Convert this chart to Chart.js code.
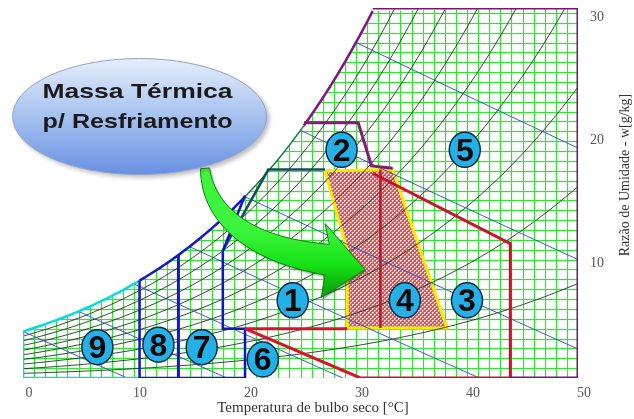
<!DOCTYPE html>
<html>
<head>
<meta charset="utf-8">
<script src="https://cdn.jsdelivr.net/npm/chart.js@4.4.1/dist/chart.umd.min.js"></script>
<style>
  html, body { margin: 0; padding: 0; background: #ffffff; }
  #wrap { width: 634px; height: 419px; }
</style>
</head>
<body>
<div id="wrap"><canvas id="chart"></canvas></div>
<script>
// ---- psychrometric base data (sea level) ----
const P_ATM = 101.325;                       // kPa
// saturation vapour pressure, kPa, index = dry-bulb °C (0..50)
const PSAT_KPA = [0.611,0.657,0.706,0.758,0.813,0.872,0.935,1.002,1.073,1.148,
                  1.228,1.313,1.403,1.498,1.599,1.706,1.819,1.938,2.064,2.198,
                  2.339,2.488,2.645,2.810,2.985,3.169,3.363,3.567,3.782,4.008,
                  4.246,4.495,4.758,5.034,5.323,5.627,5.945,6.280,6.630,6.997,
                  7.381,7.784,8.205,8.646,9.108,9.590,10.094,10.620,11.171,11.745,12.344];
const RH_PERCENT = [10, 20, 30, 40, 50, 60, 70, 80, 90];
const WET_BULB_C = [0, 5, 10, 15, 20, 25, 30];
const X_TICKS = [0, 10, 20, 30, 40, 50];
const Y_TICKS = [10, 20, 30];
const W_TOP = 30;          // g/kg, upper limit of the chart
const SAT_TOP_T = 31.5;    // °C where saturation meets the upper limit
const GRID_STEP_T = 1;
const GRID_STEP_W = 0.8;

// saturation curve break points (°C): zone 9 | zones 8-7 | ventilation | zone 5
const SAT_BREAKS_C = [0, 10.5, 20, 25.3, SAT_TOP_T];

// zone outlines, [dry-bulb °C, humidity ratio g/kg]
const ZONE9_EDGE   = [[0, 3.8], [0, 0], [10.5, 0]];
const ZONE8_EDGE   = [[10.5, 7.9], [10.5, 0], [20, 0]];
const ZONE78_SPLIT = [[14, 10.0], [14, 0]];
const ZONE7_EDGE   = [[20, 14.8], [18, 10.3], [18, 4], [20, 4], [20, 0]];
const ZONE1_EDGE   = [[18, 10.3], [22.1, 16.9], [27.2, 16.9]];
const ZONE6_EDGE   = [[20, 4], [30.4, 0]];
const ZONE1_BASE   = [[20, 4], [29.2, 4]];
const ZONE3_EDGE   = [[30.4, 0], [43.9, 0], [43.9, 10.9], [31.5, 16.6]];
const ZONE4_SHAPE  = [[27.2, 16.8], [33.3, 16.9], [38.2, 4.05], [29.2, 4.05], [29.2, 10.4], [27.2, 16.8]];
const ZONE4_SPLIT  = [[32.2, 16.9], [32.2, 4.05]];
const ZONE2_EDGE   = [[25.3, 20.7], [30.2, 20.7], [31.4, 17.2], [33.3, 17.0]];
const ZONE5_EDGE   = [[SAT_TOP_T, 30], [50, 30], [50, 0], [43.9, 0]];

// zone numbers
const ZONE_LABELS  = ['1', '2', '3', '4', '5', '6', '7', '8', '9'];
const ZONE_LABEL_T = [24.3, 28.7, 40.0, 34.4, 39.8, 21.6, 16.1, 12.2, 6.7];
const ZONE_LABEL_W = [6.3, 18.5, 6.3, 6.3, 18.5, 1.5, 2.5, 2.7, 2.5];

// callout and its arrow (data units)
const CALLOUT_LINES = ['Massa Térmica', 'p/ Resfriamento'];
const CALLOUT_CENTER = [10.5, 21.2];
const ARROW_CURVE = [[16.4, 17.0], [16.7, 13.2], [20.5, 10.4], [27.4, 9.6]];
const ARROW_TIP = [30.8, 8.8];

const X_TITLE = 'Temperatura de bulbo seco [°C]';
const Y_TITLE = 'Razão de Umidade - w[g/kg]';

// target plot rectangle inside the 634x419 canvas
const AREA = { left: 23, top: 8, right: 578, bottom: 378 };

// ---- helpers ----
function humidityRatio(ps, phi) { const pv = phi * ps; return 622 * pv / (P_ATM - pv); }
function psatAt(t) {
  const i = Math.max(0, Math.min(PSAT_KPA.length - 2, Math.floor(t)));
  const f = t - i;
  return PSAT_KPA[i] * (1 - f) + PSAT_KPA[i + 1] * f;
}
function satW(t) { return humidityRatio(psatAt(t), 1); }
function satSegment(t0, t1) {
  const pts = [];
  for (let t = t0; t < t1; t += 0.25) pts.push([t, Math.min(satW(t), W_TOP)]);
  pts.push([t1, Math.min(satW(t1), W_TOP)]);
  return pts;
}
function rhCurve(rh) {
  return PSAT_KPA.map((ps, t) => [t, humidityRatio(ps, rh / 100)]);
}
function wetBulbLine(twb) {
  const ws = satW(twb);
  const pts = [];
  let prev = null;
  for (let t = twb; t <= 50; t += 1) {
    const w = ((2501 - 2.326 * twb) * ws - 1006 * (t - twb)) / (2501 + 1.86 * t - 4.186 * twb);
    if (w < 0) {
      if (prev) { const f = prev[1] / (prev[1] - w); pts.push([prev[0] + f * (t - prev[0]), 0]); }
      break;
    }
    pts.push([t, w]); prev = [t, w];
  }
  return pts;
}

// dotted red fill for the thermal-mass cooling zone
function makeHatch() {
  const c = document.createElement('canvas');
  c.width = 4; c.height = 4;
  const g = c.getContext('2d');
  g.fillStyle = 'rgb(232,84,86)'; g.fillRect(0, 0, 4, 4);
  g.fillStyle = 'rgba(255,205,205,0.8)';
  g.fillRect(1, 0, 1, 1); g.fillRect(0, 1, 1, 1); g.fillRect(3, 2, 1, 1); g.fillRect(2, 3, 1, 1);
  g.fillStyle = '#ffffff';
  g.fillRect(0, 0, 1, 1); g.fillRect(2, 2, 1, 1);
  return g.createPattern(c, 'repeat');
}

// ---- datasets ----
const datasets = [];
function addLine(points, color, width, order, extra) {
  datasets.push(Object.assign({
    data: points.map(p => ({ x: p[0], y: p[1] })),
    showLine: true, borderColor: color, borderWidth: width,
    pointRadius: 0, pointHoverRadius: 0, fill: false, tension: 0, order: order
  }, extra || {}));
}

// hatched thermal-mass zone
addLine(ZONE4_SHAPE, 'rgb(255,232,0)', 3, 60, { fill: 'shape', backgroundColor: makeHatch() });

RH_PERCENT.forEach(rh => addLine(rhCurve(rh), 'rgba(25,45,30,0.85)', 1, 50));
WET_BULB_C.forEach(t => addLine(wetBulbLine(t), 'rgba(55,70,200,0.9)', 1, 49));

const SAT_COLORS = ['rgb(0,222,222)', 'rgb(20,20,200)', 'rgb(30,120,80)', 'rgb(130,20,130)'];
for (let i = 0; i < SAT_BREAKS_C.length - 1; i++) {
  addLine(satSegment(SAT_BREAKS_C[i], SAT_BREAKS_C[i + 1]), SAT_COLORS[i], i === 2 ? 1.5 : 2.5, 20);
}

addLine(ZONE9_EDGE, 'rgb(0,222,222)', 2.5, 12);
addLine(ZONE1_EDGE, 'rgb(20,80,90)', 2.5, 12);
addLine(ZONE8_EDGE, 'rgb(20,20,200)', 2.5, 11);
addLine(ZONE78_SPLIT, 'rgb(20,20,200)', 3, 11);
addLine(ZONE7_EDGE, 'rgb(20,20,190)', 2.5, 11);
addLine(ZONE1_BASE, 'rgb(215,20,45)', 3, 10);
addLine(ZONE6_EDGE, 'rgb(215,20,45)', 3, 10);
addLine(ZONE3_EDGE, 'rgb(205,15,50)', 3, 10);
addLine(ZONE4_SPLIT, 'rgb(200,20,40)', 2.5, 9);
addLine(ZONE2_EDGE, 'rgb(135,25,120)', 3, 9);
addLine(ZONE5_EDGE, 'rgb(120,20,120)', 3, 9);

// ---- plugins ----
const gridPlugin = {
  id: 'psyGrid',
  beforeDatasetsDraw(chart) {
    const { ctx, scales: { x, y } } = chart;
    ctx.save();
    ctx.beginPath();
    ctx.moveTo(x.getPixelForValue(0), y.getPixelForValue(0));
    satSegment(0, SAT_TOP_T).forEach(p => ctx.lineTo(x.getPixelForValue(p[0]), y.getPixelForValue(p[1])));
    ctx.lineTo(x.getPixelForValue(50), y.getPixelForValue(W_TOP));
    ctx.lineTo(x.getPixelForValue(50), y.getPixelForValue(0));
    ctx.closePath();
    ctx.clip();
    const strokeGrid = () => {
      ctx.beginPath();
      for (let t = 0; t <= 50.001; t += GRID_STEP_T) {
        const px = Math.round(x.getPixelForValue(t)) + 0.5;
        ctx.moveTo(px, y.top); ctx.lineTo(px, y.bottom);
      }
      for (let w = 0; w <= W_TOP; w += GRID_STEP_W) {
        const py = Math.round(y.getPixelForValue(w)) + 0.5;
        ctx.moveTo(x.left, py); ctx.lineTo(x.right, py);
      }
      ctx.stroke();
    };
    ctx.strokeStyle = 'rgba(160,245,160,0.3)'; ctx.lineWidth = 3; strokeGrid();
    ctx.strokeStyle = 'rgb(55,225,55)'; ctx.lineWidth = 1; strokeGrid();
    ctx.restore();
  }
};

const annotationPlugin = {
  id: 'annotations',
  afterDatasetsDraw(chart) {
    const { ctx, scales: { x, y } } = chart;
    const P = (t, w) => [x.getPixelForValue(t), y.getPixelForValue(w)];

    // zone numbers
    ctx.save();
    ZONE_LABELS.forEach((lab, i) => {
      const [cx, cy] = P(ZONE_LABEL_T[i], ZONE_LABEL_W[i]);
      ctx.beginPath();
      ctx.ellipse(cx, cy, 15.5, 17.5, 0, 0, Math.PI * 2);
      ctx.fillStyle = 'rgb(38,176,232)';
      ctx.fill();
      ctx.lineWidth = 1.5;
      ctx.strokeStyle = 'rgb(10,45,70)';
      ctx.stroke();
      ctx.fillStyle = '#0a0a0a';
      ctx.font = 'bold 32px "Liberation Sans", Arial, sans-serif';
      ctx.textAlign = 'center';
      ctx.textBaseline = 'middle';
      ctx.fillText(lab, cx, cy + 2);
    });
    ctx.restore();

    // curved green arrow
    ctx.save();
    const c = ARROW_CURVE.map(p => P(p[0], p[1]));
    const bez = (t) => {
      const u = 1 - t;
      return [u*u*u*c[0][0] + 3*u*u*t*c[1][0] + 3*u*t*t*c[2][0] + t*t*t*c[3][0],
              u*u*u*c[0][1] + 3*u*u*t*c[1][1] + 3*u*t*t*c[2][1] + t*t*t*c[3][1]];
    };
    const left = [], right = [];
    const N = 40;
    for (let i = 0; i <= N; i++) {
      const t = i / N;
      const p = bez(t);
      const q = bez(Math.min(1, t + 0.01)), r = bez(Math.max(0, t - 0.01));
      let dx = q[0] - r[0], dy = q[1] - r[1];
      const len = Math.hypot(dx, dy) || 1; dx /= len; dy /= len;
      const hw = (9 + 22 * t) / 2;
      left.push([p[0] - dy * hw, p[1] + dx * hw]);
      right.push([p[0] + dy * hw, p[1] - dx * hw]);
    }
    const end = c[3];
    const tip = P(ARROW_TIP[0], ARROW_TIP[1]);
    ctx.beginPath();
    ctx.moveTo(right[0][0], right[0][1]);
    right.forEach(p => ctx.lineTo(p[0], p[1]));
    ctx.lineTo(end[0] - 2, end[1] - 36);
    ctx.lineTo(tip[0], tip[1]);
    ctx.lineTo(end[0] - 6, end[1] + 38);
    for (let i = left.length - 1; i >= 0; i--) ctx.lineTo(left[i][0], left[i][1]);
    ctx.closePath();
    const grad = ctx.createLinearGradient(end[0], end[1] - 30, end[0], end[1] + 30);
    grad.addColorStop(0, 'rgb(60,245,60)');
    grad.addColorStop(0.6, 'rgb(20,225,20)');
    grad.addColorStop(1, 'rgb(10,170,10)');
    ctx.shadowColor = 'rgba(0,60,0,0.45)';
    ctx.shadowOffsetX = 1.5; ctx.shadowOffsetY = 2; ctx.shadowBlur = 2;
    ctx.fillStyle = grad;
    ctx.fill();
    ctx.shadowColor = 'transparent';
    ctx.lineWidth = 1;
    ctx.strokeStyle = 'rgb(15,130,15)';
    ctx.stroke();
    ctx.restore();

    // callout ellipse
    ctx.save();
    const [ex, ey] = P(CALLOUT_CENTER[0], CALLOUT_CENTER[1]);
    ctx.beginPath();
    ctx.ellipse(ex, ey, 127, 58, 0, 0, Math.PI * 2);
    const eg = ctx.createLinearGradient(ex, ey - 58, ex, ey + 58);
    eg.addColorStop(0, 'rgb(230,237,251)');
    eg.addColorStop(0.45, 'rgb(172,198,241)');
    eg.addColorStop(1, 'rgb(104,144,226)');
    ctx.shadowColor = 'rgba(60,60,80,0.35)';
    ctx.shadowOffsetX = 3; ctx.shadowOffsetY = 3; ctx.shadowBlur = 4;
    ctx.fillStyle = eg;
    ctx.fill();
    ctx.shadowColor = 'transparent';
    ctx.lineWidth = 1;
    ctx.strokeStyle = 'rgb(150,165,190)';
    ctx.stroke();
    ctx.fillStyle = '#1a1a1a';
    ctx.font = 'bold 21px "Liberation Sans", Arial, sans-serif';
    ctx.textAlign = 'center';
    ctx.textBaseline = 'alphabetic';
    const baselines = [ey - 19, ey + 11];
    CALLOUT_LINES.forEach((line, i) => {
      const wpx = ctx.measureText(line).width;
      const sx = 190 / wpx;
      ctx.save();
      ctx.translate(ex - 2, baselines[i]);
      ctx.scale(sx, 1);
      ctx.fillText(line, 0, 0);
      ctx.restore();
    });
    ctx.restore();
  },
  afterDraw(chart) {
    const { ctx, chartArea } = chart;
    ctx.save();
    ctx.fillStyle = '#333333';
    ctx.textAlign = 'center';
    ctx.textBaseline = 'middle';
    ctx.font = '15px "Liberation Serif", "Times New Roman", serif';
    ctx.fillText(X_TITLE, 313, chartArea.bottom + 30);
    ctx.translate(chartArea.right + 47, 175);
    ctx.rotate(-Math.PI / 2);
    ctx.font = '14px "Liberation Serif", "Times New Roman", serif';
    ctx.fillText(Y_TITLE, 0, 0);
    ctx.restore();
  }
};

// scales keep no extra margin for their end labels
function noScalePadding(s) {
  s.paddingTop = 0; s.paddingBottom = 0; s.paddingLeft = 0; s.paddingRight = 0;
}

// ---- chart ----
const chart = new Chart(document.getElementById('chart'), {
  type: 'scatter',
  data: { datasets: datasets },
  plugins: [gridPlugin, annotationPlugin],
  options: {
    responsive: true,
    maintainAspectRatio: false,
    animation: false,
    devicePixelRatio: 1,
    events: [],
    layout: { autoPadding: false, padding: { left: AREA.left, top: AREA.top, right: 0, bottom: 0 } },
    plugins: { legend: { display: false }, tooltip: { enabled: false } },
    scales: {
      x: {
        type: 'linear', min: 0, max: 50,
        afterBuildTicks: s => { s.ticks = X_TICKS.map(v => ({ value: v })); },
        afterFit: s => { s.height = 419 - AREA.bottom; noScalePadding(s); },
        grid: { display: false, drawTicks: false },
        border: { display: false },
        ticks: {
          autoSkip: false, maxRotation: 0, padding: 7, labelOffset: 6,
          color: '#555555',
          font: { family: '"Liberation Serif", "Times New Roman", serif', size: 14 }
        }
      },
      y: {
        type: 'linear', position: 'right', min: 0, max: W_TOP,
        afterBuildTicks: s => { s.ticks = Y_TICKS.map(v => ({ value: v })); },
        afterFit: s => { s.width = 634 - AREA.right; noScalePadding(s); },
        grid: { display: false, drawTicks: false },
        border: { display: false },
        ticks: {
          autoSkip: false, padding: 12, labelOffset: 9,
          color: '#555555',
          font: { family: '"Liberation Serif", "Times New Roman", serif', size: 14 }
        }
      }
    }
  }
});
</script>
</body>
</html>
